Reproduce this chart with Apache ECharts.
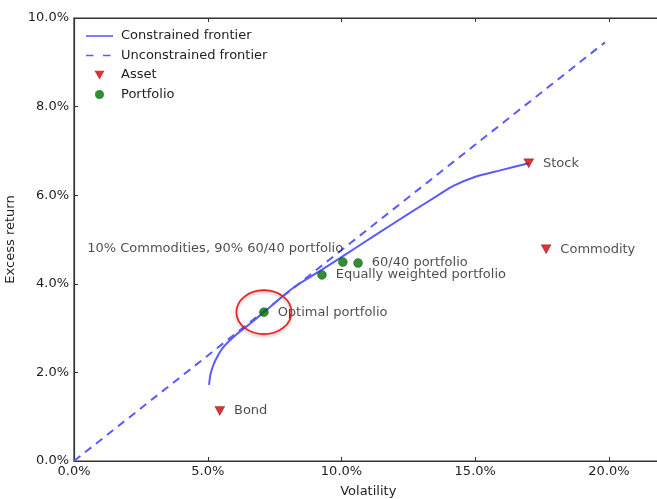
<!DOCTYPE html>
<html>
<head>
<meta charset="utf-8">
<script src="https://cdn.jsdelivr.net/npm/echarts@6/dist/echarts.min.js"></script>
<style>
  html, body { margin: 0; padding: 0; background: #fff; overflow: hidden; }
  #chart { width: 663px; height: 499px; }
</style>
</head>
<body>
<div id="chart"></div>
<script>
// Risk / return data, all values in percent
const constrainedFrontier = [
  [5.05, 1.72], [5.10, 1.95], [5.20, 2.15], [5.35, 2.35], [5.60, 2.58],
  [6.08, 2.86], [6.60, 3.11], [7.10, 3.36], [8.20, 3.91], [9.20, 4.29],
  [10.07, 4.63], [11.32, 5.12], [12.56, 5.60], [13.56, 5.98], [14.18, 6.21],
  [14.93, 6.40], [15.93, 6.56], [17.00, 6.72]
];
const unconstrainedFrontier = [[0, 0], [19.85, 9.45]];

const assetNames = ['Stock', 'Commodity', 'Bond'];
const assetVol = [17.0, 17.65, 5.45];
const assetRet = [6.72, 4.78, 1.13];

const portfolioNames = ['10% Commodities, 90% 60/40 portfolio', '60/40 portfolio', 'Equally weighted portfolio', 'Optimal portfolio'];
const portfolioVol = [10.05, 10.62, 9.27, 7.10];
const portfolioRet = [4.49, 4.47, 4.20, 3.36];

const xTicks = [0, 5, 10, 15, 20];
const yTicks = [0, 2, 4, 6, 8, 10];

const FONT = 'DejaVu Sans';
const FS = 13;
const TEXT = '#1e1e1e';
const LINE = '#5a5aff';
const AXIS = '#333';
const RED = '#d40000';
const GREEN = '#007000';

// Legend glyphs in 30x14 boxes (the leading moveTo points fix the box size)
const BOX = 'path://M0,0M30,14';
const ICON_SOLID = BOX + 'M0,6.2h27v1.6h-27z';
const ICON_DASHED = BOX + 'M0,6.2h7.5v1.6h-7.5zM17,6.2h7.5v1.6h-7.5z';
const ICON_TRI = BOX + 'M8.5,2.8L18.5,2.8L13.5,11.5Z';
const ICON_DOT = BOX + 'M18,7A4.5,4.5,0,1,1,9,7A4.5,4.5,0,1,1,18,7Z';

const pct = v => v.toFixed(1) + '%';

const chart = echarts.init(document.getElementById('chart'));

const rightLabel = { show: true, position: 'right', distance: 9, color: TEXT, fontFamily: FONT, fontSize: FS };

chart.setOption({
  animation: false,
  backgroundColor: '#fff',
  grid: {
    left: 74, top: 18, bottom: 38, right: 0.5, outerBoundsMode: 'none',
    show: true, borderColor: AXIS, borderWidth: 1.2
  },
  legend: {
    orient: 'vertical', left: 86, top: 29, padding: 0, itemGap: 5.5, itemWidth: 30, itemHeight: 14,
    textStyle: { color: TEXT, fontFamily: FONT, fontSize: FS },
    itemStyle: { borderWidth: 0 },
    data: [
      { name: 'Constrained frontier', icon: ICON_SOLID },
      { name: 'Unconstrained frontier', icon: ICON_DASHED },
      { name: 'Asset', icon: ICON_TRI, itemStyle: { color: RED, borderWidth: 0 } },
      { name: 'Portfolio', icon: ICON_DOT, itemStyle: { color: GREEN, borderWidth: 0 } }
    ]
  },
  xAxis: [{
    type: 'value', min: 0, max: 22, interval: 5,
    name: 'Volatility', nameLocation: 'middle', nameGap: 24,
    nameTextStyle: { color: TEXT, fontFamily: FONT, fontSize: FS },
    axisLine: { show: true, lineStyle: { color: AXIS, width: 1.2 } },
    axisTick: { show: true, inside: true, length: 4, lineStyle: { color: AXIS }, customValues: xTicks },
    axisLabel: { color: TEXT, fontFamily: FONT, fontSize: FS, margin: 4, formatter: pct, customValues: xTicks },
    splitLine: { show: false }
  }, {
    type: 'value', min: 0, max: 22, interval: 5, position: 'top',
    axisLine: { show: true, lineStyle: { color: AXIS, width: 1.2 } },
    axisTick: { show: true, inside: true, length: 4, lineStyle: { color: AXIS }, customValues: xTicks },
    axisLabel: { show: false },
    splitLine: { show: false }
  }],
  yAxis: {
    type: 'value', min: 0, max: 10, interval: 2,
    name: 'Excess return', nameLocation: 'middle', nameGap: 48, nameRotate: 90,
    nameTextStyle: { color: TEXT, fontFamily: FONT, fontSize: FS },
    axisLine: { show: true, lineStyle: { color: AXIS, width: 1.2 } },
    axisTick: { show: true, inside: true, length: 4, lineStyle: { color: AXIS }, customValues: yTicks },
    axisLabel: { color: TEXT, fontFamily: FONT, fontSize: FS, margin: 5, formatter: pct, customValues: yTicks },
    splitLine: { show: false }
  },
  series: [
    {
      name: 'Constrained frontier', type: 'line', data: constrainedFrontier,
      smooth: 0.3, showSymbol: false, symbol: 'none',
      lineStyle: { color: LINE, width: 2 }, itemStyle: { color: LINE }, z: 3
    },
    {
      name: 'Unconstrained frontier', type: 'line', data: unconstrainedFrontier,
      showSymbol: false, symbol: 'none',
      lineStyle: { color: LINE, width: 2, type: [8, 6] }, itemStyle: { color: LINE }, z: 2
    },
    {
      name: 'Asset', type: 'scatter', symbol: 'triangle', symbolRotate: 180, symbolSize: [10, 9],
      itemStyle: { color: RED, borderColor: '#400', borderWidth: 0.4 },
      label: rightLabel,
      data: assetNames.map((n, i) => ({ name: n, value: [assetVol[i], assetRet[i]], label: { formatter: n } })),
      z: 5
    },
    {
      name: 'Portfolio', type: 'scatter', symbol: 'circle', symbolSize: 9,
      itemStyle: { color: GREEN, borderColor: '#003000', borderWidth: 0.4 },
      label: rightLabel,
      data: portfolioNames.map((n, i) => {
        const d = { name: n, value: [portfolioVol[i], portfolioRet[i]], label: { formatter: n } };
        if (i === 0) d.label = { formatter: n, position: 'left', distance: 0, offset: [5, -13] };
        return d;
      }),
      z: 5
    }
  ]
});

// Red ring highlighting the optimal portfolio
const optIdx = portfolioNames.indexOf('Optimal portfolio');
const c = chart.convertToPixel({ gridIndex: 0 }, [portfolioVol[optIdx], portfolioRet[optIdx]]);
chart.setOption({
  graphic: [{
    type: 'ellipse', shape: { cx: c[0], cy: c[1], rx: 27.5, ry: 22 },
    style: { fill: 'none', stroke: '#e8201c', lineWidth: 1.6,
      shadowBlur: 3, shadowColor: 'rgba(0,0,0,0.35)', shadowOffsetY: 1.5 },
    z: 100
  }]
});
</script>
</body>
</html>
